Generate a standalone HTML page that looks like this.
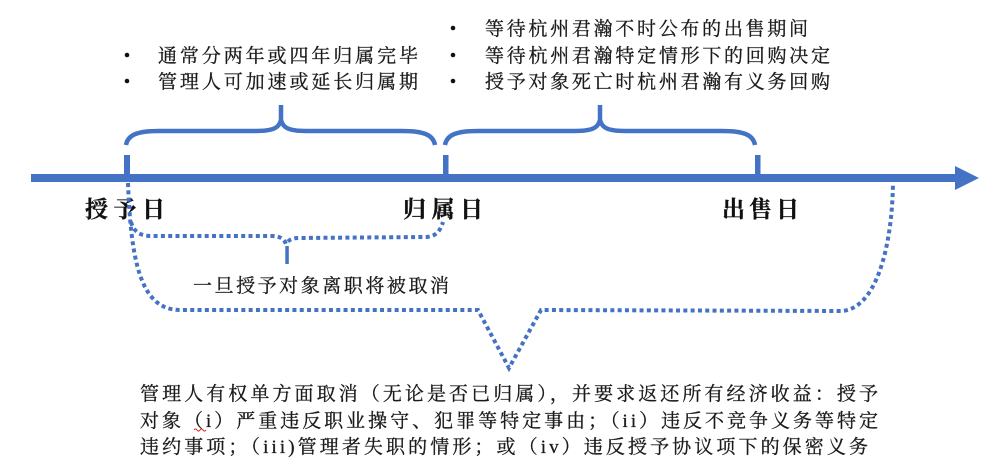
<!DOCTYPE html>
<html>
<head>
<meta charset="utf-8">
<style>
  html,body{margin:0;padding:0;background:#fff;}
  svg{display:block;}
  .t{font-family:"Liberation Serif","Noto Serif CJK SC",serif;font-size:19px;fill:#1a1a1a;stroke:#1a1a1a;stroke-width:0.3;}
  .lbl{font-family:"Liberation Serif","Noto Serif CJK SC",serif;font-size:23px;font-weight:700;fill:#111;stroke:#111;stroke-width:0.3;}
</style>
</head>
<body>
<svg width="1000" height="470" viewBox="0 0 1000 470" xmlns="http://www.w3.org/2000/svg">
  <rect x="0" y="0" width="1000" height="470" fill="#fff"/>

  <!-- top bullets group 1 -->
  <circle cx="127" cy="55" r="2.3" fill="#111"/>
  <circle cx="127" cy="81" r="2.3" fill="#111"/>
  <text class="t" x="158" y="62" textLength="260" lengthAdjust="spacing">通常分两年或四年归属完毕</text>
  <text class="t" x="158" y="88" textLength="260" lengthAdjust="spacing">管理人可加速或延长归属期</text>

  <!-- top bullets group 2 -->
  <circle cx="453" cy="28" r="2.3" fill="#111"/>
  <circle cx="453" cy="55" r="2.3" fill="#111"/>
  <circle cx="453" cy="81" r="2.3" fill="#111"/>
  <text class="t" x="485" y="35" textLength="323" lengthAdjust="spacing">等待杭州君瀚不时公布的出售期间</text>
  <text class="t" x="485" y="62" textLength="345" lengthAdjust="spacing">等待杭州君瀚特定情形下的回购决定</text>
  <text class="t" x="485" y="88" textLength="345" lengthAdjust="spacing">授予对象死亡时杭州君瀚有义务回购</text>

  <!-- solid braces -->
  <g fill="none" stroke="#4472C4" stroke-width="4.5" stroke-linecap="butt">
    <path d="M126,145 C128,134 139,131 159,131 L256,131 C273,131 279,128 281,120 C283,128 289,131 306,131 L402,131 C422,131 433,134 435,145"/>
    <path d="M281,122 L281,105"/>
    <path d="M445,145 C447,134 458,131 478,131 L575,131 C592,131 598,128 600,120 C602,128 608,131 625,131 L722,131 C742,131 753,134 755,145"/>
    <path d="M600,122 L600,105"/>
  </g>

  <!-- timeline -->
  <rect x="31" y="174" width="926" height="8" fill="#4472C4"/>
  <polygon points="955,166 979,178 955,190" fill="#4472C4"/>
  <rect x="124" y="155" width="6" height="21" fill="#4472C4"/>
  <rect x="443" y="155" width="5.5" height="21" fill="#4472C4"/>
  <rect x="755" y="155" width="5.5" height="21" fill="#4472C4"/>

  <!-- labels -->
  <text class="lbl" x="85" y="217" textLength="80" lengthAdjust="spacing">授予日</text>
  <text class="lbl" x="403" y="217" textLength="80" lengthAdjust="spacing">归属日</text>
  <text class="lbl" x="722" y="217" textLength="77" lengthAdjust="spacing">出售日</text>

  <!-- dotted braces -->
  <g fill="none" stroke="#4472C4" stroke-width="4" stroke-dasharray="4 3.3">
    <path d="M128,183 C131,260 140,310 180,310 L478,310 L509,368 L541,310 L840,311 C875,311 892,250 893,183"/>
    <path d="M131,222 C134,232 140,236 152,236 L272,236 C280,236 284,239 286,244 C289,239 293,238 300,238 L425,237 C435,237 440,232 443,222"/>
  </g>
  <rect x="285.3" y="246" width="3.5" height="18" fill="#4472C4"/>

  <text class="t" x="193" y="292" textLength="256" lengthAdjust="spacing">一旦授予对象离职将被取消</text>

  <!-- bottom paragraph -->
  <text class="t" x="140" y="400" textLength="738" lengthAdjust="spacing">管理人有权单方面取消（无论是否已归属），并要求返还所有经济收益：授予</text>
  <text class="t" x="140" y="427" textLength="738" lengthAdjust="spacing">对象（i）严重违反职业操守、犯罪等特定事由；（ii）违反不竞争义务等特定</text>
  <text class="t" x="140" y="453" textLength="728" lengthAdjust="spacing">违约事项；（iii)管理者失职的情形；或（iv）违反授予协议项下的保密义务</text>

  <!-- red spell-check squiggle -->
  <path d="M194,430 q1.5,-2.2 3,0 t3,0 t3,0 t3,0" fill="none" stroke="#d02020" stroke-width="1"/>
</svg>
</body>
</html>
